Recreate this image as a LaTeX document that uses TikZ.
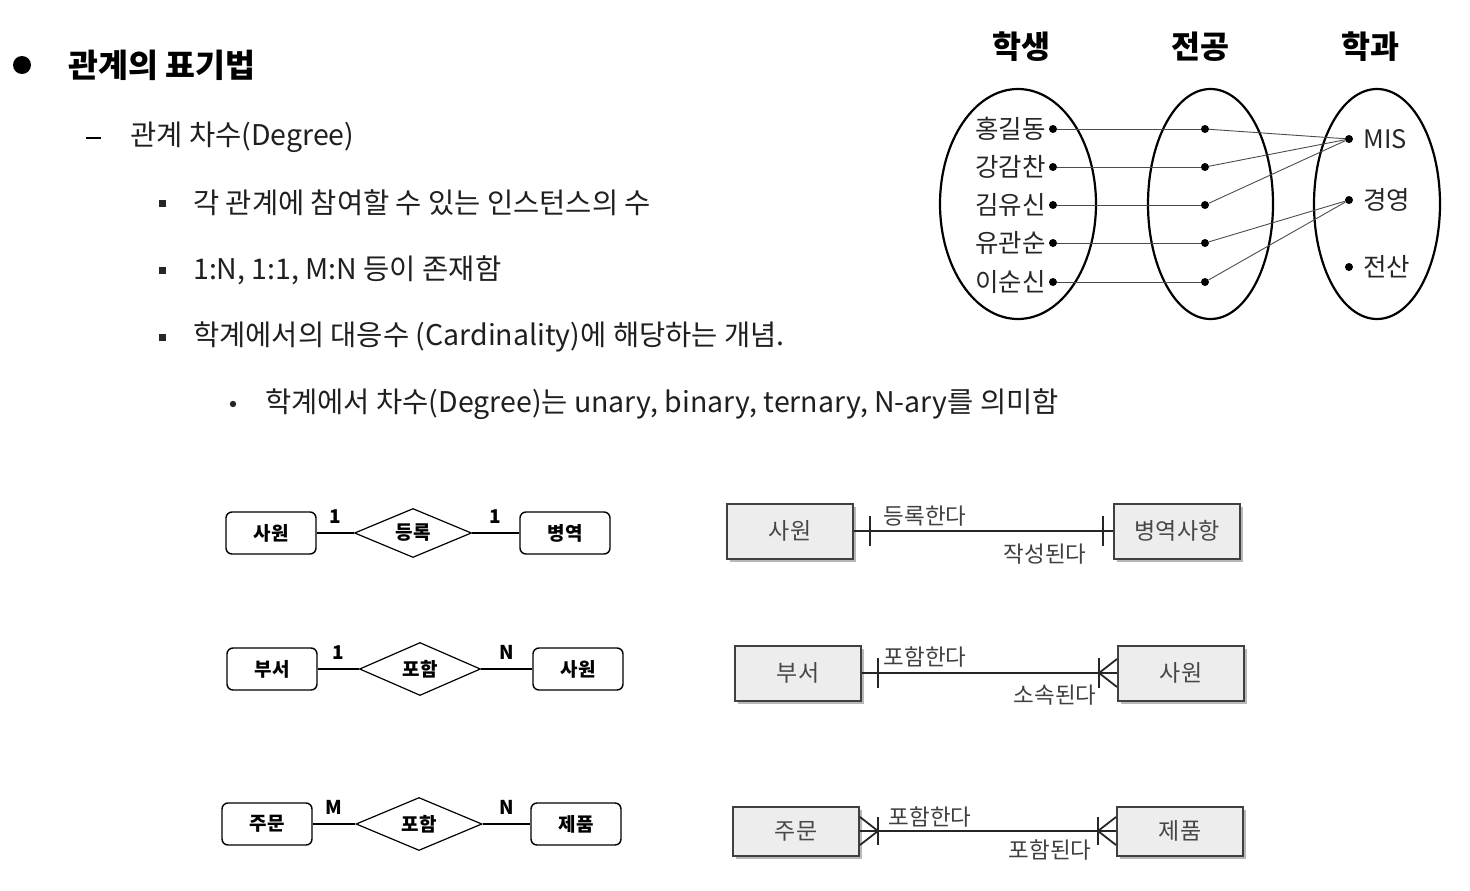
\documentclass[tikz,border=0pt]{standalone}
\usepackage{fontspec}
\setmainfont{Noto Sans CJK KR}
\usetikzlibrary{positioning,shapes.geometric,shadows}

\tikzset{
  body/.style={anchor=west, inner sep=0pt, text=black!88, font=\fontsize{28.5}{32}\selectfont},
  head/.style={font=\fontsize{31.5}{36}\selectfont\bfseries},
  person/.style={inner sep=1pt, text=black!85, font=\fontsize{25.5}{29}\selectfont},
  member/.style={circle, fill=black, inner sep=0pt, minimum size=8pt},
  ring/.style={line width=2.2pt},
  link/.style={black!70, line width=0.9pt},
  entity/.style={draw, rounded corners=6pt, line width=1.4pt, minimum width=90pt, minimum height=42pt, font=\fontsize{19}{22}\selectfont\bfseries},
  relation/.style={draw, diamond, aspect=2.4, inner sep=0pt, line width=1.2pt, font=\fontsize{19}{22}\selectfont\bfseries},
  card/.style={midway, above=8pt, inner sep=1pt, font=\fontsize{19}{22}\selectfont\bfseries},
  tablebox/.style={draw=black!75, line width=2pt, fill=black!7, minimum width=126pt, minimum height=55pt,
    drop shadow={shadow xshift=3pt, shadow yshift=-3pt, fill=black!35, opacity=0.8},
    text=black!72, font=\fontsize{23}{26}\selectfont},
  verb/.style={text=black!75, font=\fontsize{22.5}{26}\selectfont},
  rel/.style={black!85, line width=1.8pt}
}

\begin{document}
\begin{tikzpicture}[x=1pt, y=-1pt]
\useasboundingbox (0,0) rectangle (1470,891);

\fill (22,65) circle (9pt);
\node[body, font=\fontsize{32.5}{36}\selectfont\bfseries, text=black] (title) at (68,65) {관계의 표기법};
\draw[line width=1.5pt] (86,138) -- (101,138);
\node[body] (deg) at (130,137) {관계 차수(Degree)};
\foreach \y in {203, 270, 337} {
  \fill[black!85] (158.5,\y) ++(0,-3.5) rectangle ++(7,7);
}
\node[body] (l1) at (193,203) {각 관계에 참여할 수 있는 인스턴스의 수};
\node[body] (l2) at (193,270) {1:N, 1:1, M:N 등이 존재함};
\node[body] (l3) at (193,337) {학계에서의 대응수 (Cardinality)에 해당하는 개념.};
\fill[black!85] (233,404) circle (3.2pt);
\node[body] (l4) at (265,404) {학계에서 차수(Degree)는 unary, binary, ternary, N-ary를 의미함};

% mapping sets
\node[head] (hs) at (1021,47) {학생};
\node[head] (hm) at (1200,47) {전공};
\node[head] (hd) at (1370,47) {학과};
\draw[ring] (1018,204) ellipse [x radius=78pt, y radius=115pt];
\draw[ring] (1210.5,204) ellipse [x radius=62.5pt, y radius=115pt];
\draw[ring] (1377,204) ellipse [x radius=63pt, y radius=115pt];
\foreach \i/\nm/\y in {1/홍길동/129, 2/강감찬/167, 3/김유신/205, 4/유관순/243, 5/이순신/282} {
  \node[member] (s\i) at (1053,\y) {};
  \node[member] (m\i) at (1205,\y) {};
  \node[person, left=2pt of s\i] {\nm};
}
\foreach \d/\nm/\y in {mis/MIS/139, biz/경영/200, cs/전산/267} {
  \node[member] (\d) at (1349,\y) {};
  \node[person, right=9pt of \d] {\nm};
}
\foreach \i in {1,...,5} \draw[link] (s\i) -- (m\i);
\foreach \i/\d in {1/mis, 2/mis, 3/mis, 4/biz, 5/biz} \draw[link] (m\i) -- (\d);

% Chen notation
\node[entity] (e1a) at (271,533) {사원};
\node[relation, minimum width=117pt, minimum height=49pt] (r1) at (413,533) {등록};
\node[entity] (e1b) at (565,533) {병역};
\draw[line width=1.2pt] (e1a) -- node[card] {1} (r1) -- node[card] {1} (e1b);

\node[entity] (e2a) at (272,669) {부서};
\node[relation, minimum width=121pt, minimum height=53pt] (r2) at (420,669) {포함};
\node[entity] (e2b) at (578,669) {사원};
\draw[line width=1.2pt] (e2a) -- node[card] {1} (r2) -- node[card] {N} (e2b);

\node[entity] (e3a) at (267,824) {주문};
\node[relation, minimum width=126pt, minimum height=53pt] (r3) at (419,824) {포함};
\node[entity] (e3b) at (576,824) {제품};
\draw[line width=1.2pt] (e3a) -- node[card] {M} (r3) -- node[card] {N} (e3b);

% crow's foot notation
\node[tablebox] (b1a) at (790,531) {사원};
\node[tablebox] (b1b) at (1177,531) {병역사항};
\draw[rel] (b1a.east) -- (b1b.west);
\draw[rel] ([xshift=16pt]b1a.east) +(0,-15) -- +(0,15);
\draw[rel] ([xshift=-10pt]b1b.west) +(0,-15) -- +(0,15);
\node[verb] (v1a) at (925,516) {등록한다};
\node[verb] (v1b) at (1045,554) {작성된다};

\node[tablebox] (b2a) at (798,673) {부서};
\node[tablebox] (b2b) at (1181,673) {사원};
\draw[rel] (b2a.east) -- (b2b.west);
\draw[rel] ([xshift=16pt]b2a.east) +(0,-15) -- +(0,15);
\draw[rel] ([yshift=14pt]b2b.west) -- ([xshift=-18pt]b2b.west) -- ([yshift=-14pt]b2b.west);
\draw[rel] ([xshift=-18pt]b2b.west) +(0,-15) -- +(0,15);
\node[verb] (v2a) at (925,657) {포함한다};
\node[verb] (v2b) at (1055,695) {소속된다};

\node[tablebox, minimum height=49pt] (b3a) at (796,831) {주문};
\node[tablebox, minimum height=49pt] (b3b) at (1180,831) {제품};
\draw[rel] (b3a.east) -- (b3b.west);
\draw[rel] ([yshift=14pt]b3a.east) -- ([xshift=18pt]b3a.east) -- ([yshift=-14pt]b3a.east);
\draw[rel] ([xshift=18pt]b3a.east) +(0,-14) -- +(0,14);
\draw[rel] ([yshift=14pt]b3b.west) -- ([xshift=-18pt]b3b.west) -- ([yshift=-14pt]b3b.west);
\draw[rel] ([xshift=-18pt]b3b.west) +(0,-14) -- +(0,14);
\node[verb] (v3a) at (930,817) {포함한다};
\node[verb] (v3b) at (1050,850) {포함된다};
\end{tikzpicture}
\end{document}
